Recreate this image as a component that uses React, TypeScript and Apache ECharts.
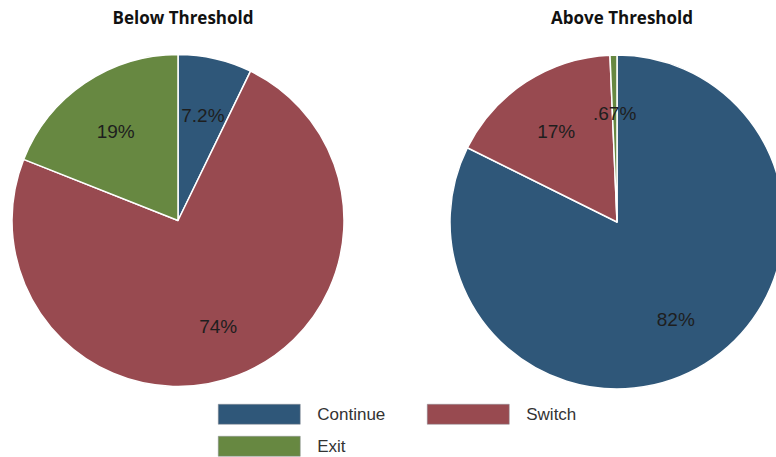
import React, { useEffect, useRef } from "react";
import * as echarts from "echarts";

const categories = ["Continue", "Switch", "Exit"];
const colors = ["#2f5779", "#984a50", "#678841"];
const belowValues = [7.2, 73.8, 19];
const belowLabels = ["7.2%", "74%", "19%"];
const aboveValues = [82.33, 17, 0.67];
const aboveLabels = ["82%", "17%", ".67%"];
const titles = ["Below Threshold", "Above Threshold"];

export default function App() {
  const ref = useRef<HTMLDivElement>(null);
  useEffect(() => {
    document.body.style.margin = "0";
    const chart = echarts.init(ref.current!, null, { renderer: "svg" });
    const mk = (vals: number[], labels: string[]) =>
      categories.map((c, i) => ({ name: c, value: vals[i], lab: labels[i] }));
    const pies = [
      { center: [178, 220.5], r: 166, vals: belowValues, labels: belowLabels },
      { center: [617, 222], r: 167, vals: aboveValues, labels: aboveLabels },
    ];
    const series: any[] = [];
    pies.forEach((p) => {
      series.push({
        type: "pie",
        center: p.center,
        radius: [0, p.r],
        startAngle: 90,
        clockwise: true,
        silent: true,
        data: mk(p.vals, p.labels),
        itemStyle: { borderColor: "#ffffff", borderWidth: 1.5 },
        label: { show: false },
        labelLine: { show: false },
      });
      series.push({
        type: "pie",
        center: p.center,
        radius: [p.r * 0.3, p.r],
        startAngle: 90,
        clockwise: true,
        silent: true,
        data: mk(p.vals, p.labels),
        itemStyle: { color: "rgba(0,0,0,0)", borderWidth: 0 },
        label: {
          show: true,
          position: "inner",
          formatter: (d: any) => d.data.lab,
          fontFamily: "Liberation Sans",
          fontSize: 19,
          color: "#1e1e1e",
          offset: [0, 3],
        },
        labelLine: { show: false },
      });
    });
    const legendBase = {
      icon: "rect",
      itemWidth: 82,
      itemHeight: 20,
      padding: 0,
      selectedMode: false,
      itemStyle: { borderColor: "#8a8f96", borderWidth: 0.5 },
      textStyle: {
        fontFamily: "Liberation Sans",
        fontSize: 17,
        color: "#333333",
        padding: [0, 0, 0, 12],
      },
    };
    chart.setOption({
      animation: false,
      color: colors,
      title: titles.map((t, i) => ({
        text: t,
        left: pies[i].center[0],
        top: 4,
        textAlign: "center",
        textStyle: {
          fontFamily: "Open Sans",
          fontWeight: "bold",
          fontSize: 17,
          color: "#111111",
        },
      })),
      legend: [
        { ...legendBase, left: 218, top: 404, data: [categories[0]] },
        { ...legendBase, left: 427, top: 404, data: [categories[1]] },
        { ...legendBase, left: 218, top: 436, data: [categories[2]] },
      ],
      series,
    });
    return () => chart.dispose();
  }, []);
  return <div ref={ref} style={{ width: 776, height: 457 }} />;
}
